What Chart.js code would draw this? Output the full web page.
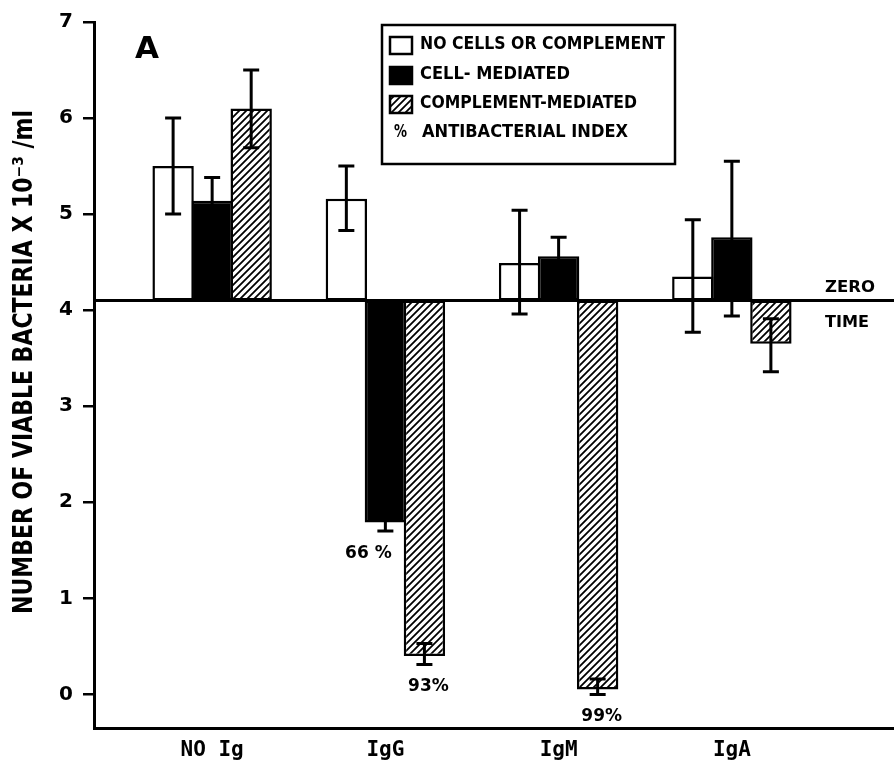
<!DOCTYPE html>
<html>
<head>
<meta charset="utf-8">
<script src="https://cdn.jsdelivr.net/npm/chart.js@4/dist/chart.umd.min.js"></script>
<style>
  html, body { margin: 0; background: #fff; }
  #wrap { width: 894px; height: 772px; }
</style>
</head>
<body>
<div id="wrap"><canvas id="chart"></canvas></div>
<script>
// data
const categories = ['NO Ig', 'IgG', 'IgM', 'IgA'];
const zeroTime = 4.1;
const yTicks = [0, 1, 2, 3, 4, 5, 6, 7];

const noCells = [5.5, 5.16, 4.49, 4.35];
const noCellsLow = [5.0, 4.83, 3.96, 3.77];
const noCellsHigh = [6.0, 5.5, 5.04, 4.94];

const cellMed = [5.14, 1.79, 4.56, 4.76];
const cellMedLow = [4.9, 1.7, 4.36, 3.94];
const cellMedHigh = [5.38, 1.88, 4.76, 5.55];

const compMed = [6.1, 0.4, 0.05, 3.65];
const compMedLow = [5.69, 0.31, 0.0, 3.36];
const compMedHigh = [6.5, 0.53, 0.16, 3.91];

const cellIndex = ['', '66 %', '', ''];
const compIndex = ['', '93%', '99%', ''];

const legendLabels = ['NO CELLS OR COMPLEMENT', 'CELL- MEDIATED', 'COMPLEMENT-MEDIATED', 'ANTIBACTERIAL INDEX'];
const yTitle = 'NUMBER OF VIABLE BACTERIA X 10\u207B\u00B3 /ml';

const FONT = '"DejaVu Sans", sans-serif';
const MONO = '"DejaVu Sans Mono", monospace';

// diagonal hatch fill
function makeHatch() {
    const s = 7;
    const c = document.createElement('canvas');
    c.width = s; c.height = s;
    const g = c.getContext('2d');
    g.fillStyle = '#fff';
    g.fillRect(0, 0, s, s);
    g.strokeStyle = '#000';
    g.lineWidth = 1.8;
    g.beginPath();
    g.moveTo(0, s); g.lineTo(s, 0);
    g.moveTo(-1, 1); g.lineTo(1, -1);
    g.moveTo(s - 1, s + 1); g.lineTo(s + 1, s - 1);
    g.stroke();
    return g.createPattern(c, 'repeat');
}
const hatch = makeHatch();

// squeeze text to a given width
function fitText(ctx, text, x, y, width) {
    const w = ctx.measureText(text).width;
    ctx.save();
    ctx.translate(x, y);
    ctx.scale(width / w, 1);
    ctx.fillText(text, 0, 0);
    ctx.restore();
}

function floating(values) {
    return values.map((v, i) => ({ x: i, y: [zeroTime, v] }));
}

const zeroLine = {
    id: 'zeroLine',
    beforeDatasetsDraw(chart) {
        const ctx = chart.ctx, area = chart.chartArea;
        const y = chart.scales.y.getPixelForValue(zeroTime);
        ctx.save();
        ctx.strokeStyle = '#000';
        ctx.lineWidth = 3;
        ctx.beginPath();
        ctx.moveTo(area.left, y);
        ctx.lineTo(area.right, y);
        ctx.stroke();
        ctx.fillStyle = '#000';
        ctx.font = 'bold 16px ' + FONT;
        ctx.textBaseline = 'middle';
        fitText(ctx, 'ZERO', area.right - 69, y - 13, 50);
        fitText(ctx, 'TIME', area.right - 69, y + 22, 44);
        ctx.restore();
    }
};

const errorBars = {
    id: 'errorBars',
    afterDatasetsDraw(chart) {
        const ctx = chart.ctx, yScale = chart.scales.y;
        ctx.save();
        ctx.strokeStyle = '#000';
        ctx.fillStyle = '#000';
        ctx.lineWidth = 3;
        chart.data.datasets.forEach((ds, d) => {
            chart.getDatasetMeta(d).data.forEach((bar, i) => {
                const top = yScale.getPixelForValue(ds.errHigh[i]);
                const bot = yScale.getPixelForValue(ds.errLow[i]);
                ctx.beginPath();
                ctx.moveTo(bar.x, top); ctx.lineTo(bar.x, bot);
                ctx.moveTo(bar.x - 8, top); ctx.lineTo(bar.x + 8, top);
                ctx.moveTo(bar.x - 8, bot); ctx.lineTo(bar.x + 8, bot);
                ctx.stroke();
                const label = ds.pct[i];
                if (label) {
                    ctx.font = 'bold 17px ' + FONT;
                    ctx.textAlign = 'center';
                    ctx.textBaseline = 'middle';
                    // cell-mediated label sits left of the hatched bar
                    const dx = d === 1 ? -17 : 4;
                    ctx.fillText(label, bar.x + dx, bot + 22);
                }
            });
        });
        ctx.restore();
    }
};

const decorations = {
    id: 'decorations',
    afterDraw(chart) {
        const ctx = chart.ctx;
        ctx.save();
        ctx.fillStyle = '#000';
        ctx.strokeStyle = '#000';

        // panel letter
        ctx.font = 'bold 31px ' + FONT;
        ctx.textBaseline = 'alphabetic';
        ctx.fillText('A', 135, 58);

        // y axis title
        ctx.save();
        ctx.translate(25, 362);
        ctx.rotate(-Math.PI / 2);
        ctx.font = 'bold 26px ' + FONT;
        ctx.textBaseline = 'middle';
        fitText(ctx, yTitle, -252, 0, 504);
        ctx.restore();

        // legend box
        ctx.lineWidth = 2.5;
        ctx.strokeRect(382, 25, 293, 139);
        const swatches = [null, '#000', hatch];
        const rowY = [45, 75, 104, 133];
        const widths = [245, 150, 217, 206];
        ctx.font = 'bold 17px ' + FONT;
        ctx.textBaseline = 'middle';
        rowY.forEach((ry, r) => {
            if (r < 3) {
                ctx.fillStyle = swatches[r] || '#fff';
                ctx.fillRect(390, ry - 8, 22, 17);
                ctx.lineWidth = 2.5;
                ctx.strokeRect(390, ry - 8, 22, 17);
            } else {
                ctx.fillStyle = '#000';
                fitText(ctx, '%', 394, ry, 13);
            }
            ctx.fillStyle = '#000';
            fitText(ctx, legendLabels[r], r === 3 ? 422 : 420, ry, widths[r]);
        });
        ctx.restore();
    }
};

const barStyle = {
    borderColor: '#000',
    borderWidth: 2.5,
    borderSkipped: false,
    categoryPercentage: 0.676,
    barPercentage: 1.06
};

new Chart(document.getElementById('chart'), {
    type: 'bar',
    data: {
        datasets: [
            Object.assign({ label: legendLabels[0], data: floating(noCells), backgroundColor: '#fff',
                errLow: noCellsLow, errHigh: noCellsHigh, pct: ['', '', '', ''] }, barStyle),
            Object.assign({ label: legendLabels[1], data: floating(cellMed), backgroundColor: '#000',
                errLow: cellMedLow, errHigh: cellMedHigh, pct: cellIndex }, barStyle),
            Object.assign({ label: legendLabels[2], data: floating(compMed), backgroundColor: hatch,
                errLow: compMedLow, errHigh: compMedHigh, pct: compIndex }, barStyle)
        ]
    },
    options: {
        responsive: true,
        maintainAspectRatio: false,
        animation: false,
        layout: { padding: { top: 16, right: 0, bottom: 0, left: 0 } },
        plugins: {
            legend: { display: false },
            tooltip: { enabled: false }
        },
        scales: {
            x: {
                type: 'linear',
                offset: false,
                min: -0.682,
                max: 3.936,
                afterBuildTicks: s => { s.ticks = categories.map((c, i) => ({ value: i })); },
                afterFit: s => { s.height = 44; },
                grid: { display: false, drawTicks: false },
                border: { color: '#000', width: 3 },
                ticks: {
                    callback: v => categories[v],
                    color: '#000',
                    font: { family: MONO, size: 21, weight: 'bold' },
                    padding: 10,
                    maxRotation: 0
                }
            },
            y: {
                min: -0.35,
                max: 7,
                afterBuildTicks: s => { s.ticks = yTicks.map(v => ({ value: v })); },
                afterFit: s => { s.width = 94; },
                grid: { drawOnChartArea: false, drawTicks: true, tickLength: 11, color: '#000', lineWidth: 2.5 },
                border: { color: '#000', width: 3 },
                ticks: {
                    color: '#000',
                    font: { family: FONT, size: 20, weight: 'bold' },
                    padding: 10
                }
            }
        }
    },
    plugins: [zeroLine, errorBars, decorations]
});
</script>
</body>
</html>
